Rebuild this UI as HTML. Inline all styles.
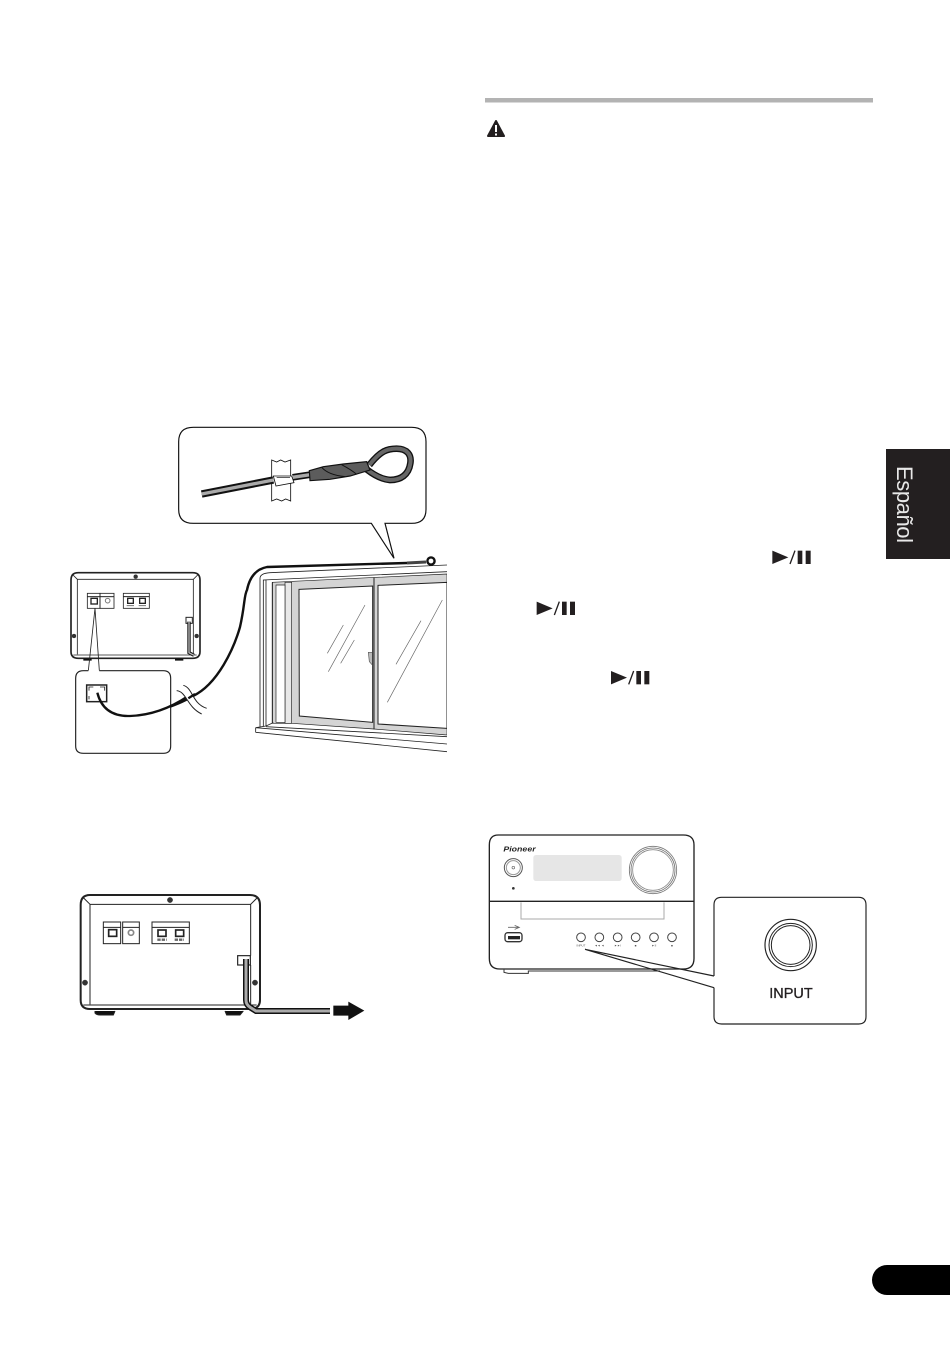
<!DOCTYPE html>
<html><head><meta charset="utf-8"><style>
html,body{margin:0;padding:0;background:#fff}
svg{display:block}
text{font-family:"Liberation Sans",sans-serif}
</style></head><body>
<svg xmlns="http://www.w3.org/2000/svg" width="950" height="1349" viewBox="0 0 950 1349">
<rect width="950" height="1349" fill="#fff"/>
<defs><clipPath id="winclip"><rect x="0" y="0" width="621" height="640"/></clipPath></defs>

<!-- Top callout -->
<g transform="translate(170 420) scale(.33333)" fill="none" stroke="#111">
<path d="M604,310 L672,415 L645,310 H725 Q768,310 768,268 V65 Q768,22 725,22 H70 Q26,22 26,65 V268 Q26,310 70,310 Z" fill="#fff" stroke-width="3.5"/>
<path d="M305,120 L320,126 L332,120 L345,126 L362,120 V243 L347,237 L335,243 L320,237 L305,243 Z" fill="#fff" stroke-width="2.5"/>
<path d="M95,222 L310,180" stroke-width="22"/>
<path d="M95,222 L310,180" stroke="#aaa" stroke-width="10"/>
<path d="M368,172 L420,164" stroke-width="20"/>
<path d="M368,172 L420,164" stroke="#aaa" stroke-width="10"/>
<path d="M310,168 H365 L372,188 L318,198 Z" fill="#fff" stroke-width="2.5"/>
<path d="M320,172 H360" stroke-width="2"/>
<path d="M598,135 C632,92 652,86 680,86 C712,86 725,105 721,130 C716,165 692,180 660,180 C635,178 612,165 590,148" stroke-width="20"/>
<path d="M598,135 C632,92 652,86 680,86 C712,86 725,105 721,130 C716,165 692,180 660,180 C635,178 612,165 590,148" stroke="#666" stroke-width="12"/>
<path d="M418,152 L460,140 L520,132 L590,125 L600,150 L540,168 L480,178 L420,182 Z" fill="#5c5c5c" stroke-width="3.5"/>
<path d="M455,142 Q475,165 525,170 M515,134 Q545,150 560,163" stroke="#111" stroke-width="3"/>
</g>

<!-- Window -->
<g transform="translate(240 550) scale(.33333)" clip-path="url(#winclip)" fill="none" stroke="#222" stroke-width="2.5">
<path d="M97,97 L621,72 V555 L402,537 L155,520 H97 Z" fill="#d4d4d4" stroke-width="2"/>
<path d="M135,97 H155 V520 H135 Z" fill="#e8e8e8" stroke-width="2"/>
<path d="M108,105 H135 V517 H108 Z" fill="#fff" stroke-width="2"/>
<path d="M177,118 L398,108 V517 L178,498 Z" fill="#fff" stroke-width="3"/>
<path d="M414,106 L621,97 V535 L414,522 Z" fill="#fff" stroke-width="3"/>
<path d="M402,83 V538" stroke-width="3"/>
<path d="M60,530 V85 Q60,70 90,68 L621,45 M70,530 V90 L621,65 M78,528 V90" />
<path d="M97,97 V520" stroke-width="3"/>
<path d="M47,533 L78,528 L100,518 M47,533 L621,582 M47,547 L621,605 M47,533 V547 M78,530 L621,560" />
<path d="M262,310 L310,225 M265,365 L375,165 M302,340 L343,270 M468,343 L543,212 M442,457 L607,150" stroke="#666" stroke-width="2"/>
<path d="M385,307 H397 V345 L388,335 Z" fill="#bbb" stroke="#555" stroke-width="2"/>
</g>

<!-- Long wire + ring -->
<path d="M98,693 Q103,712 118,714 Q133,718 160,710 Q180,704 193,696 C218,684 234,648 240,627 C245,605 244,595 247,590 Q251,570 267,567 L407,563" fill="none" stroke="#111" stroke-width="2.4"/>
<path d="M407,563 L426,562" stroke="#444" stroke-width="3" fill="none"/>
<circle cx="431" cy="561" r="3.6" fill="#fff" stroke="#111" stroke-width="2.4"/>

<!-- Device 1 -->
<g transform="translate(60 560) scale(.33333)" fill="none" stroke="#222" stroke-width="3">
<path d="M55,38 H398 Q420,38 420,60 V275 Q420,295 398,295 H55 Q33,295 33,275 V60 Q33,38 55,38 Z" fill="#fff" stroke-width="5"/>
<path d="M52,58 H400 M52,58 V283 M400,58 V280 M36,42 L52,58 M416,42 L400,58 M40,285 H410" stroke-width="2.5"/>
<path d="M70,299 H95 M345,299 H370" stroke="#111" stroke-width="6"/>
<rect x="82" y="100" width="38" height="45" stroke-width="2.5"/><path d="M82,110 H120"/>
<rect x="93" y="115" width="19" height="17" stroke-width="4"/>
<rect x="120" y="100" width="42" height="45" stroke-width="2.5"/><path d="M120,110 H162"/>
<circle cx="143" cy="122" r="7" stroke="#777" stroke-width="3"/>
<rect x="190" y="100" width="78" height="45" stroke-width="2.5"/><path d="M190,110 H268"/>
<rect x="203" y="115" width="17" height="15" stroke-width="4"/><rect x="239" y="115" width="17" height="15" stroke-width="4"/>
<path d="M200,137 H222 M236,137 H258" stroke="#777" stroke-width="3"/>
<circle cx="227" cy="50" r="6" fill="#333" stroke-width="1"/>
<circle cx="42" cy="228" r="6" fill="#333" stroke-width="1"/>
<circle cx="410" cy="228" r="6" fill="#333" stroke-width="1"/>
<rect x="378" y="172" width="19" height="18" stroke-width="3"/>
<path d="M387,185 V278 L402,286" stroke="#111" stroke-width="10"/>
<path d="M387,185 V278 L402,286" stroke="#bbb" stroke-width="4"/>
<path d="M105,145 L85,332 M105,145 L118,332" stroke-width="2.5"/>
<path d="M85,332 H70 Q47,332 47,355 V558 Q47,580 70,580 H310 Q332,580 332,558 V355 Q332,332 310,332 H118" fill="#fff" stroke-width="3.5"/>
<path d="M86,334 L117,334" stroke="#fff" stroke-width="6"/>
<rect x="80" y="375" width="60" height="50" stroke-width="4.5"/>
<path d="M87,392 V381 H100 M120,381 H134 V392 M87,408 V418" stroke-width="2.5"/>
<path d="M112,398 Q130,470 210,468 Q300,465 385,408" stroke="#111" stroke-width="7"/>
<path d="M370,376 C400,385 395,430 440,445 L425,462 C380,440 380,395 350,392 Z" fill="#fff" stroke="none"/>
<path d="M350,392 C380,395 380,440 425,462 M370,376 C400,385 395,430 440,445" stroke-width="3"/>
<path d="M385,415 L405,402" stroke="#111" stroke-width="7"/>
</g>

<!-- Device 2 -->
<g transform="translate(70 885) scale(.33333)" fill="none" stroke="#222" stroke-width="3">
<path d="M60,30 H540 Q570,30 570,60 V345 Q570,372 540,372 H60 Q32,372 32,345 V60 Q32,30 60,30 Z" fill="#fff" stroke-width="6"/>
<path d="M60,58 H542 M60,58 V358 M542,58 V212 M542,240 V358 M38,36 L60,58 M564,36 L542,58 M40,360 H560" stroke-width="3"/>
<path d="M75,378 V384 Q80,390 90,390 H130 L135,378 M465,378 L470,390 H510 L520,378" fill="#111" stroke-width="3"/>
<rect x="100" y="111" width="52" height="65"/><path d="M100,127 H152"/>
<rect x="116" y="134" width="24" height="20" stroke-width="5"/>
<rect x="158" y="111" width="50" height="65"/><path d="M158,127 H208"/>
<circle cx="183" cy="143" r="8" stroke="#888" stroke-width="5"/>
<rect x="246" y="111" width="112" height="65"/><path d="M246,127 H358"/>
<rect x="264" y="135" width="24" height="19" stroke-width="5"/><rect x="317" y="135" width="24" height="19" stroke-width="5"/>
<path d="M262,164 H290 M314,164 H342" stroke="#666" stroke-width="7" stroke-dasharray="10 3"/>
<circle cx="300" cy="45" r="8" fill="#333" stroke-width="1"/>
<circle cx="45" cy="293" r="8" fill="#333" stroke-width="1"/>
<circle cx="555" cy="293" r="8" fill="#333" stroke-width="1"/>
<rect x="503" y="212" width="38" height="28" fill="#fff" stroke-width="3.5"/>
<path d="M528,222 V345 Q528,360 542,368 L558,378 H780" stroke="#111" stroke-width="18"/>
<path d="M528,222 V345 Q528,360 542,368 L558,378 H780" stroke="#aaa" stroke-width="9"/>
<polygon points="790,362 835,362 835,350 883,377 835,405 835,392 790,392" fill="#111" stroke="none"/>
</g>

<!-- Right column header -->
<rect x="485" y="98" width="388" height="4.5" fill="#b3b3b3"/>
<path d="M496,121 L504,136 H488 Z" fill="#231f20" stroke="#231f20" stroke-width="2" stroke-linejoin="round"/>
<rect x="495" y="125" width="2" height="7" fill="#fff"/><rect x="495" y="133.500" width="2" height="2" fill="#fff"/>

<!-- Play/pause icons -->
<g transform="translate(530 540) scale(.33333)" fill="#231f20">
<g><polygon points="727,32 775,52 727,72"/><path d="M780,72 L795,32" stroke="#231f20" stroke-width="4"/><rect x="803" y="32" width="14" height="40"/><rect x="827" y="32" width="15" height="40"/></g>
<g transform="translate(-707 153)"><polygon points="727,32 775,52 727,72"/><path d="M780,72 L795,32" stroke="#231f20" stroke-width="4"/><rect x="803" y="32" width="14" height="40"/><rect x="827" y="32" width="15" height="40"/></g>
<g transform="translate(-484 361)"><polygon points="727,32 775,52 727,72"/><path d="M780,72 L795,32" stroke="#231f20" stroke-width="4"/><rect x="803" y="32" width="14" height="40"/><rect x="827" y="32" width="15" height="40"/></g>
</g>

<!-- Device 3 -->
<g transform="translate(480 825) scale(.33333)" fill="none" stroke="#222" stroke-width="3">
<path d="M72,434 V442 L85,445 H145 V438 H540" stroke="#333" stroke-width="3"/>
<path d="M55,30 H610 Q642,30 642,60 V400 Q642,432 610,432 H60 Q28,432 28,400 V60 Q28,30 55,30 Z" fill="#fff" stroke-width="4"/>
<path d="M28,229 H642" stroke-width="4"/>
<text x="70" y="79" font-size="23" font-weight="bold" font-style="italic" fill="#222" stroke="none" textLength="97" lengthAdjust="spacingAndGlyphs">Pioneer</text>
<rect x="160" y="90" width="265" height="78" rx="8" fill="#e6e6e6" stroke="none"/>
<circle cx="519" cy="135" r="71" stroke="#777" stroke-width="2.500"/><circle cx="519" cy="135" r="66" stroke="#777" stroke-width="2.500"/><circle cx="519" cy="135" r="61" stroke="#888" stroke-width="2.500"/>
<circle cx="100" cy="128" r="27" stroke="#555" stroke-width="3"/><circle cx="100" cy="128" r="21" stroke="#999" stroke-width="3"/>
<circle cx="100" cy="128" r="4" stroke="#666" stroke-width="2"/>
<circle cx="100" cy="190" r="4" fill="#333" stroke="none"/>
<path d="M123,232 V282 H552 V232" stroke="#aaa" stroke-width="3"/>
<path d="M84,307 H118 M104,301 L118,307 L104,313" stroke="#666" stroke-width="2.500"/>
<rect x="75" y="323" width="51" height="27" rx="8" stroke="#333" stroke-width="4"/>
<rect x="84" y="333" width="36" height="10" fill="#222" stroke="none"/>
<g stroke="#444" stroke-width="3">
<circle cx="303" cy="337" r="13"/><circle cx="358" cy="337" r="13"/><circle cx="413" cy="337" r="13"/><circle cx="467" cy="337" r="13"/><circle cx="522" cy="337" r="13"/><circle cx="576" cy="337" r="13"/>
</g>
<g font-size="9" fill="#555" stroke="none" text-anchor="middle">
<text x="303" y="365">INPUT</text><text x="358" y="365">◄◄ ◄</text><text x="413" y="365">►►I</text><text x="467" y="365">■</text><text x="522" y="365">►II</text><text x="576" y="365">■</text>
</g>
</g>

<!-- INPUT callout -->
<g transform="translate(570 890) scale(.33333)" fill="none" stroke="#222" stroke-width="3">
<path d="M432,258 V45 Q432,22 455,22 H866 Q888,22 888,45 V380 Q888,402 866,402 H455 Q432,402 432,380 V293" fill="#fff" stroke-width="3.500"/>
<path d="M45,178 L432,258 M45,178 L432,293" stroke-width="3.500"/>
<circle cx="662" cy="165" r="77" stroke-width="3.500"/><circle cx="662" cy="165" r="65" stroke-width="3"/><circle cx="662" cy="165" r="58" stroke-width="3"/>
</g>
<text x="791" y="998" text-anchor="middle" font-size="14.500" fill="#231f20" stroke="#231f20" stroke-width=".3">INPUT</text>

<!-- Language tab -->
<rect x="886" y="449" width="64" height="110" fill="#231f20"/>
<text transform="translate(897 466) rotate(90)" font-size="22" fill="#e8e8e8" textLength="77">Español</text>

<!-- Page pill -->
<path d="M950,1265 H887 A15,15 0 0 0 887,1295 H950 Z" fill="#000"/>
</svg>
</body></html>
